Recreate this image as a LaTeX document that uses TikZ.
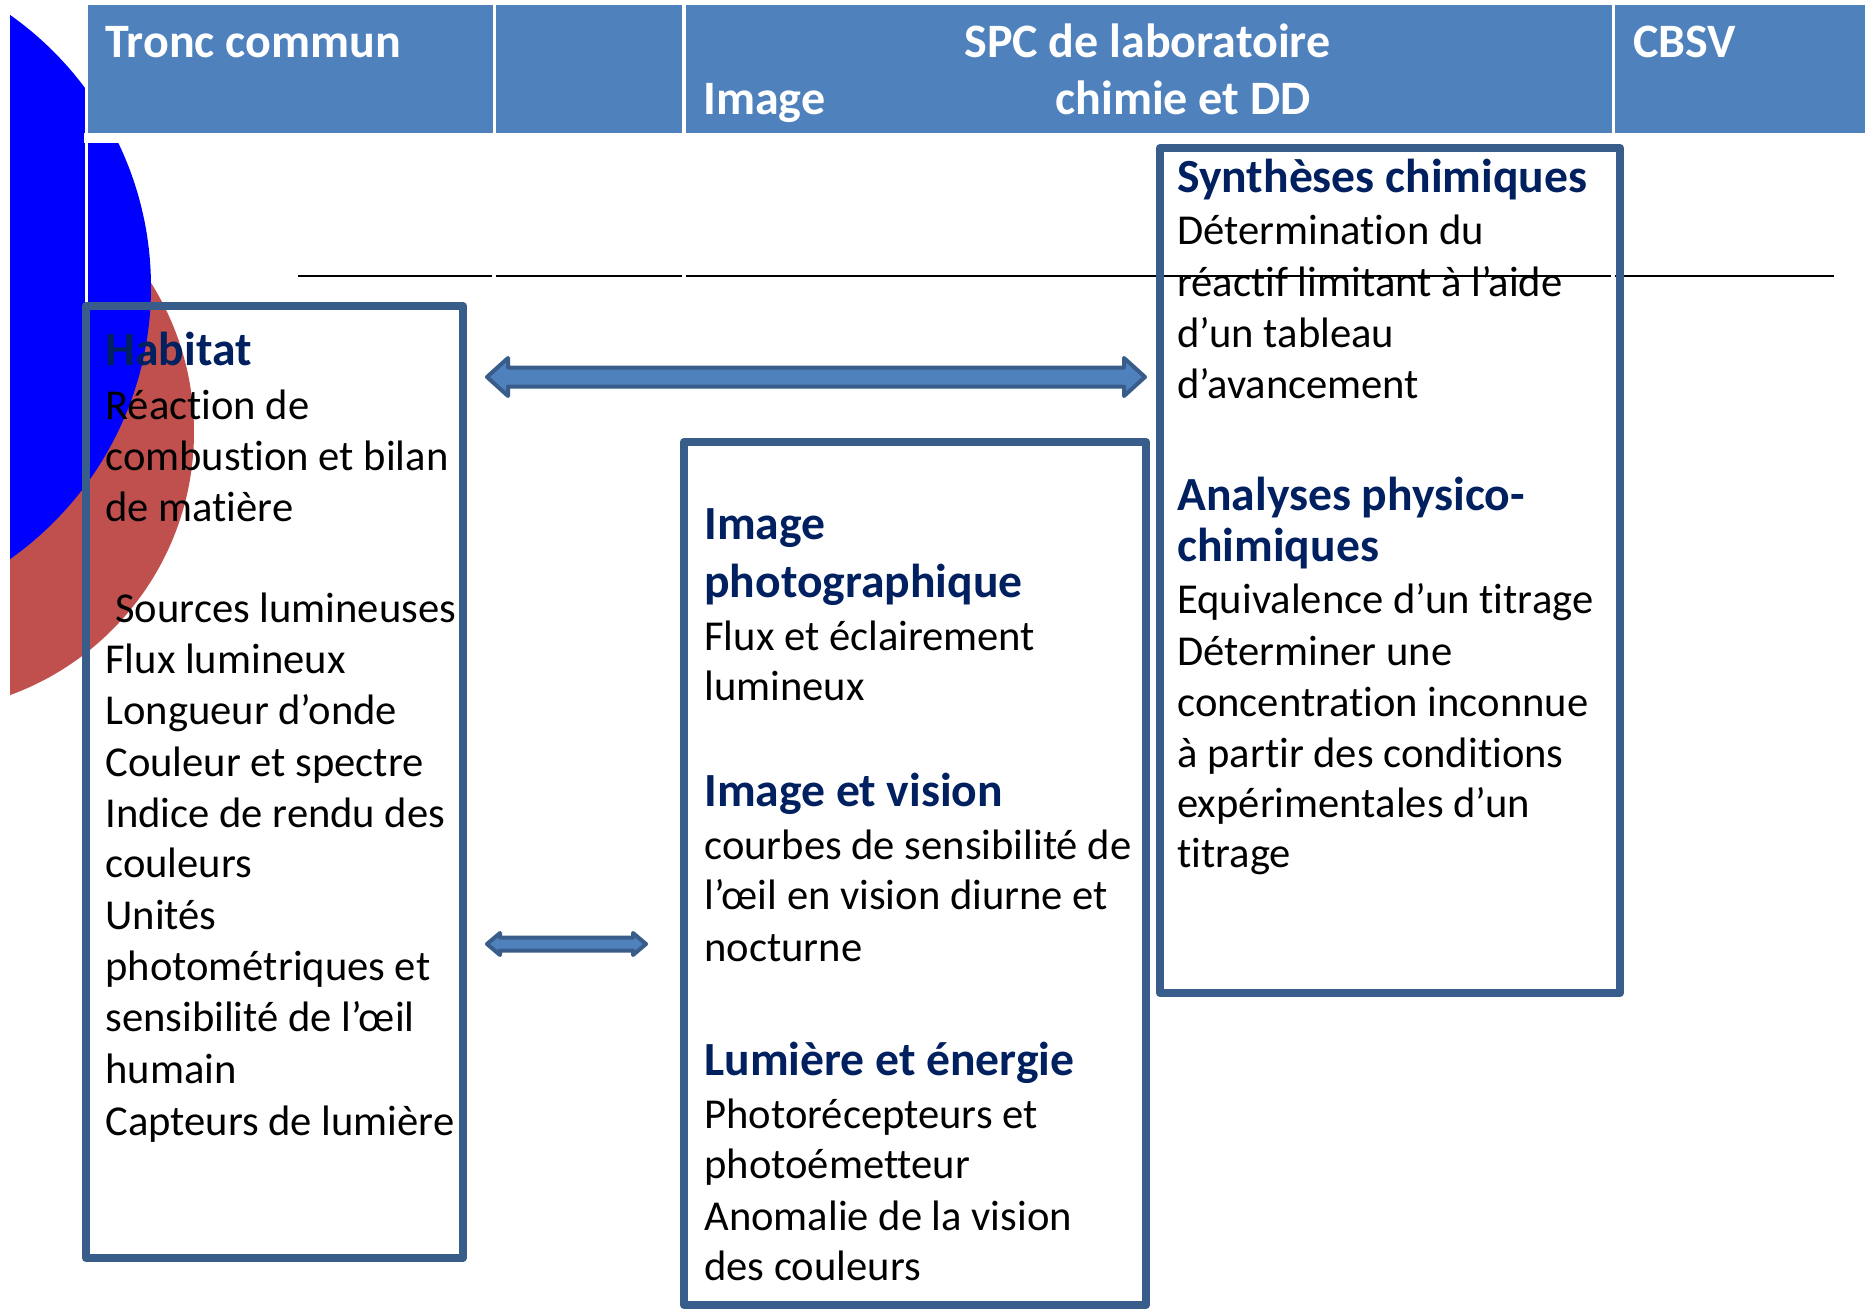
\documentclass[tikz,border=0pt]{standalone}
\usepackage{fontspec}
\setmainfont{Carlito}[RawFeature={-liga;-clig;-dlig;-rlig;-calt}]
\usepackage{tikz}
\usetikzlibrary{calc}

\definecolor{BleuEntete}{HTML}{4F81BD}
\definecolor{BleuCadre}{HTML}{385D8A}
\definecolor{BleuTitre}{HTML}{002060}
\definecolor{RougeDisque}{HTML}{C0504D}
\definecolor{BleuDisque}{HTML}{0000FF}

\begin{document}
\begin{tikzpicture}[x=0.5pt,y=-0.5pt]
\tikzstyle{corps}=[font=\fontsize{21.3}{26}\selectfont, anchor=base west, inner sep=0pt]
\tikzstyle{titre}=[font=\fontsize{23.8}{28}\selectfont\bfseries, text=BleuTitre, anchor=base west, inner sep=0pt]
\tikzstyle{entete}=[font=\fontsize{24}{28}\selectfont\bfseries, text=white, anchor=base west, inner sep=0pt]
\tikzstyle{cadre}=[draw=BleuCadre, line width=4pt, line join=round]
\tikzstyle{fleche}=[draw=BleuCadre, fill=BleuEntete, line width=2pt, line join=round]

\useasboundingbox (0,0) rectangle (1865,1311);
\fill[white] (0,0) rectangle (1865,1311);

\coordinate (HabitatNW) at (86,306);
\coordinate (HabitatSE) at (463,1258);
\coordinate (ImageNW) at (684,442);
\coordinate (ImageSE) at (1146,1305);
\coordinate (ChimieNW) at (1160,148);
\coordinate (ChimieSE) at (1620,993);
\coordinate (GrandeFlecheG) at (487,377);
\coordinate (GrandeFlecheD) at (1145,377);
\coordinate (PetiteFlecheG) at (487,944);
\coordinate (PetiteFlecheD) at (646,944);

% disques du fond
\begin{scope}
\clip (10,0) rectangle (400,1311);
\fill[RougeDisque] (-86,432) circle (280);
\fill[BleuDisque] (-182,287) circle (333);
\end{scope}

% tableau
\fill[BleuEntete] (88,5) rectangle (1865,133);
\fill[white] (84,133) rectangle (1865,143);
\fill[white] (85,0) rectangle (88,306);
\fill[white] (492.5,0) rectangle (496,143);
\fill[white] (682,0) rectangle (685.5,143);
\fill[white] (1611.5,0) rectangle (1615,143);

\draw[line width=1.25pt] (298,276) -- (492,276);
\draw[line width=1.25pt] (496,276) -- (682,276);
\draw[line width=1.25pt] (686,276) -- (1611,276);
\draw[line width=1.25pt] (1615,276) -- (1834,276);

\node[entete] (TroncCommun) at (105,58) {Tronc commun};
\node[entete] (SPC) at (964,58) {SPC de laboratoire};
\node[entete] (EnteteImage) at (703,115) {Image};
\node[entete] (ChimieDD) at (1055,115) {chimie et DD};
\node[entete] (CBSV) at (1633,58) {CBSV};

% cadres
\draw[cadre] (HabitatNW) rectangle (HabitatSE);
\draw[cadre] (ImageNW) rectangle (ImageSE);
\draw[cadre] (ChimieNW) rectangle (ChimieSE);

% fleches
\draw[fleche] (GrandeFlecheG) -- ++(21,-19) -- ++(0,9.5) -- ($(GrandeFlecheD)+(-21,-9.5)$) -- ++(0,-9.5) -- (GrandeFlecheD) -- ++(-21,19) -- ++(0,-9.5) -- ($(GrandeFlecheG)+(21,9.5)$) -- ++(0,9.5) -- cycle;
\draw[fleche] (PetiteFlecheG) -- ++(13,-11) -- ++(0,4.5) -- ($(PetiteFlecheD)+(-13,-6.5)$) -- ++(0,-4.5) -- (PetiteFlecheD) -- ++(-13,11) -- ++(0,-4.5) -- ($(PetiteFlecheG)+(13,6.5)$) -- ++(0,4.5) -- cycle;

% Habitat
\node[titre] (Habitat) at (105,365) {Habitat};
\node[corps] (Habitat1) at (105,419) {Réaction de};
\node[corps] (Habitat2) at (105,470) {combustion et bilan};
\node[corps] (Habitat3) at (105,521) {de matière};
\node[corps] (Habitat4) at (115,622) {Sources lumineuses};
\node[corps] (Habitat5) at (105,673) {Flux lumineux};
\node[corps] (Habitat6) at (105,724) {Longueur d’onde};
\node[corps] (Habitat7) at (105,776) {Couleur et spectre};
\node[corps] (Habitat8) at (105,827) {Indice de rendu des};
\node[corps] (Habitat9) at (105,877) {couleurs};
\node[corps] (Habitat10) at (105,929) {Unités};
\node[corps] (Habitat11) at (105,980) {photométriques et};
\node[corps] (Habitat12) at (105,1031) {sensibilité de l’œil};
\node[corps] (Habitat13) at (105,1083) {humain};
\node[corps] (Habitat14) at (105,1135) {Capteurs de lumière};

% Image
\node[titre] (ImagePhoto) at (704,539) {Image};
\node[titre] (ImagePhoto2) at (704,597) {photographique};
\node[corps] (ImagePhoto3) at (704,650) {Flux et éclairement};
\node[corps] (ImagePhoto4) at (704,700) {lumineux};
\node[titre] (ImageVision) at (704,806) {Image et vision};
\node[corps] (ImageVision1) at (704,859) {courbes de sensibilité de};
\node[corps] (ImageVision2) at (704,909) {l’œil en vision diurne et};
\node[corps] (ImageVision3) at (704,961) {nocturne};
\node[titre] (Lumiere) at (704,1075) {Lumière et énergie};
\node[corps] (Lumiere1) at (704,1128) {Photorécepteurs et};
\node[corps] (Lumiere2) at (704,1178) {photoémetteur};
\node[corps] (Lumiere3) at (704,1230) {Anomalie de la vision};
\node[corps] (Lumiere4) at (704,1280) {des couleurs};

% Chimie
\node[titre] (Syntheses) at (1177,192) {Synthèses chimiques};
\node[corps] (Syntheses1) at (1177,244) {Détermination du};
\node[corps] (Syntheses2) at (1177,296) {réactif limitant à l’aide};
\node[corps] (Syntheses3) at (1177,347) {d’un tableau};
\node[corps] (Syntheses4) at (1177,398) {d’avancement};
\node[titre] (Analyses) at (1177,510) {Analyses physico-};
\node[titre] (Analyses2) at (1177,561) {chimiques};
\node[corps] (Analyses3) at (1177,613) {Equivalence d’un titrage};
\node[corps] (Analyses4) at (1177,665) {Déterminer une};
\node[corps] (Analyses5) at (1177,716) {concentration inconnue};
\node[corps] (Analyses6) at (1177,767) {à partir des conditions};
\node[corps] (Analyses7) at (1177,817) {expérimentales d’un};
\node[corps] (Analyses8) at (1177,867) {titrage};
\end{tikzpicture}
\end{document}
